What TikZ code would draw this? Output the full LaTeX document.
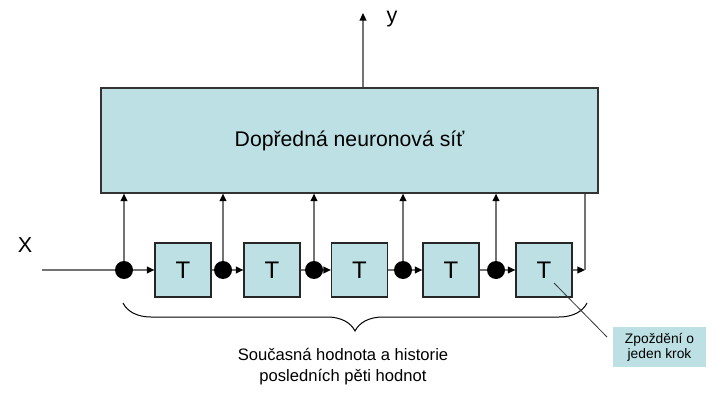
\documentclass[tikz,border=0pt]{standalone}
\usepackage{fontspec}
\setmainfont{Liberation Sans}
\usetikzlibrary{arrows.meta,decorations.pathreplacing}
\definecolor{netblue}{RGB}{188,224,227}

\begin{document}
\begin{tikzpicture}[x=0.5pt,y=-0.5pt,
    delaybox/.style={draw=black!85,line width=0.6pt,fill=netblue,minimum width=28pt,minimum height=27pt,inner sep=0pt,font=\fontsize{12}{14}\selectfont},
    tapdot/.style={circle,fill=black,minimum size=9pt,inner sep=0pt},
    wire/.style={draw=black!55,line width=0.75pt},
    feed/.style={wire,-{Triangle[length=3.8pt,width=3.4pt,color=black]}}]
    \useasboundingbox (0,0) rectangle (726,405);
    % network
    \node[draw=black!80,line width=0.6pt,fill=netblue,minimum width=248.5pt,minimum height=52.5pt,inner sep=0pt,font=\fontsize{10.6}{13}\selectfont] (net) at (349.5,140.5) {Dopředná neuronová síť};
    \coordinate (yout) at (363,13);
    \node[font=\fontsize{10.8}{13}\selectfont] (ylab) at (392,19) {y};
    \draw[feed] (net.north -| yout)--(yout);
    % delay line
    \coordinate (xin) at (42,270);
    \node[font=\fontsize{10.8}{13}\selectfont] (xlab) at (25,245.5) {X};
    \node[tapdot] (d1) at (124,270) {};
    \node[delaybox] (t1) at (183,270) {T};
    \node[tapdot] (d2) at (223,270) {};
    \node[delaybox] (t2) at (272,270) {T};
    \node[tapdot] (d3) at (314,270) {};
    \node[delaybox] (t3) at (359.5,270) {T};
    \node[tapdot] (d4) at (403,270) {};
    \node[delaybox] (t4) at (451,270) {T};
    \node[tapdot] (d5) at (496,270) {};
    \node[delaybox] (t5) at (544,270) {T};
    \coordinate (tail) at (585,270);
    \draw[wire] (xin)--(d1.west);
    \draw[feed] (d1.east)--(t1.west);
    \draw[wire] (t1.east)--(d2.west);
    \draw[feed] (d2.east)--(t2.west);
    \draw[wire] (t2.east)--(d3.west);
    \draw[feed] (d3.east)--(t3.west);
    \draw[wire] (t3.east)--(d4.west);
    \draw[feed] (d4.east)--(t4.west);
    \draw[wire] (t4.east)--(d5.west);
    \draw[feed] (d5.east)--(t5.west);
    \draw[feed] (t5.east)--(tail);
    \draw[wire] (tail)--(tail |- net.south);
    \draw[feed] (d1.north)--(d1 |- net.south);
    \draw[feed] (d2.north)--(d2 |- net.south);
    \draw[feed] (d3.north)--(d3 |- net.south);
    \draw[feed] (d4.north)--(d4 |- net.south);
    \draw[feed] (d5.north)--(d5 |- net.south);
    % brace and caption
    \coordinate (bl) at (123,303);
    \coordinate (br) at (587,303);
    \draw[line width=0.5pt,decorate,decoration={brace,mirror,amplitude=14pt}] (bl)--(br);
    \node[align=center,font=\fontsize{8.3}{10.5}\selectfont] (cap) at (343,367) {Současná hodnota a historie\\posledních pěti hodnot};
    % callout
    \node[fill=netblue,minimum width=46.5pt,minimum height=20pt,inner sep=0pt,align=center,font=\fontsize{6.9}{7.5}\selectfont] (note) at (659.5,347) {Zpoždění o\\jeden krok};
    \coordinate (pin) at (554,283);
    \coordinate (pinend) at (607,337);
    \draw[black!80,line width=0.4pt] (pin)--(pinend);
\end{tikzpicture}
\end{document}
